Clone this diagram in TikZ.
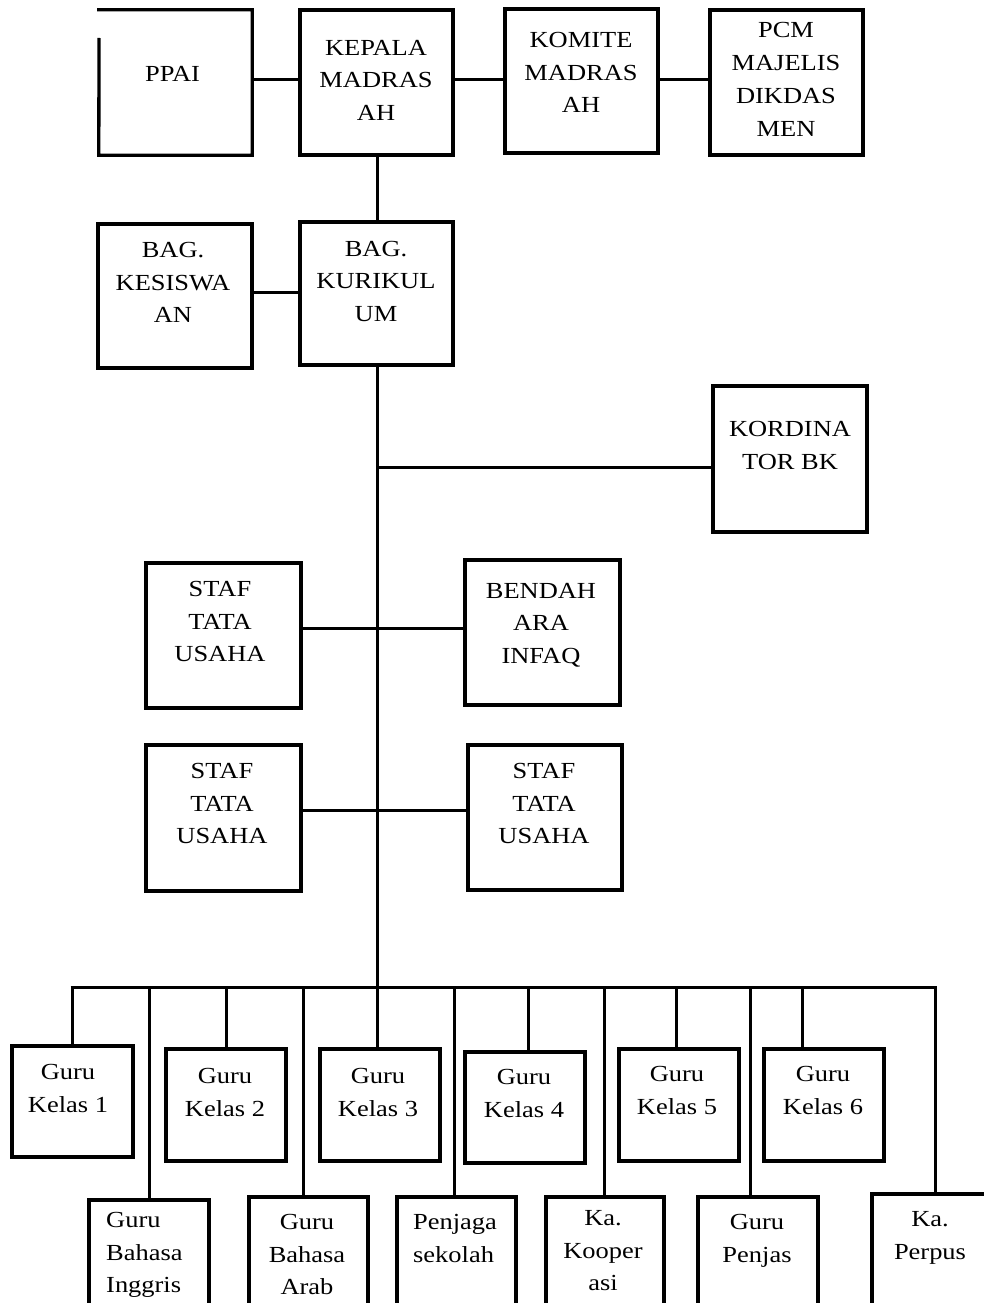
\documentclass[tikz,border=0pt]{standalone}
\usepackage{fontspec}
\setmainfont{Liberation Serif}[FakeStretch=1.15]
\usetikzlibrary{fit}
\tikzset{
  box/.style={draw=black, line width=3.3pt, inner sep=0pt, fill=none},
  plainbox/.style={draw=none, inner sep=0pt},
  conn/.style={draw=black, line width=3pt},
  txt/.style={inner sep=0pt, anchor=north, align=center, font=\fontsize{23}{32.5}\selectfont},
  ltxt/.style={inner sep=0pt, anchor=north west, align=left, font=\fontsize{23}{32.5}\selectfont},
}
\begin{document}
\begin{tikzpicture}[x=1pt, y=-1pt]
\useasboundingbox (0,0) rectangle (984,1303);
\clip (0,0) rectangle (984,1303);
\fill[white] (0,0) rectangle (984,1303);

% top row
\node[plainbox, fit={(99,10) (252,155)}] (ppai) {};
\draw[line width=3.3pt] (99,38) -- (ppai.south west) -- (ppai.south east) -- (ppai.north east) -- ([xshift=-1.6pt]ppai.north west);
\node[box, fit={(300,10) (453,155)}] (kepala) {};
\node[box, fit={(505,9) (658,153)}] (komite) {};
\node[box, fit={(710,10) (863,155)}] (pcm) {};

\node[txt] (tppai) at (172.5,66.4) {PPAI};
\node[txt] (tkepala) at (376,40) {KEPALA\\MADRAS\\AH};
\node[txt] (tkomite) at (581,32.4) {KOMITE\\MADRAS\\AH};
\node[txt, font=\fontsize{23}{33}\selectfont] (tpcm) at (786,22) {PCM\\MAJELIS\\DIKDAS\\MEN};

\coordinate (h1) at (0,80);
\draw[conn] (ppai.east |- h1) -- (kepala.west |- h1);
\draw[conn] (kepala.east |- h1) -- (komite.west |- h1);
\draw[conn] (komite.east |- h1) -- (pcm.west |- h1);

% second row
\node[box, fit={(98,224) (252,368)}] (kesiswaan) {};
\node[box, fit={(300,222) (453,365)}] (kurikulum) {};
\node[txt] (tkesiswaan) at (173,242.4) {BAG.\\KESISWA\\AN};
\node[txt] (tkurikulum) at (376,241) {BAG.\\KURIKUL\\UM};

\coordinate (v0) at (377,0);
\coordinate (h2) at (0,292);
\draw[conn] (kepala.south -| v0) -- (kurikulum.north -| v0);
\draw[conn] (kesiswaan.east |- h2) -- (kurikulum.west |- h2);

% kordinator
\node[box, fit={(713,386) (867,532)}] (kordinator) {};
\node[txt] (tkordinator) at (790,421.4) {KORDINA\\TOR BK};

% staf rows
\node[box, fit={(146,563) (301,708)}] (staf1) {};
\node[box, fit={(465,560) (620,705)}] (bendahara) {};
\node[box, fit={(146,745) (301,891)}] (staf2) {};
\node[box, fit={(468,745) (622,890)}] (staf3) {};
\node[txt] (tstaf1) at (220,581.4) {STAF\\TATA\\USAHA};
\node[txt] (tbendahara) at (541,583) {BENDAH\\ARA\\INFAQ};
\node[txt] (tstaf2) at (222,763.4) {STAF\\TATA\\USAHA};
\node[txt] (tstaf3) at (544,763.4) {STAF\\TATA\\USAHA};

% junctions on the main line
\coordinate (jk) at (377,467);
\coordinate (j1) at (377,628);
\coordinate (j2) at (377,810);
\coordinate (bus) at (377,987);
\coordinate (busL) at (72,987);
\coordinate (busR) at (935,987);

\draw[conn] (kurikulum.south -| bus) -- (bus);
\draw[conn] (jk) -- (kordinator.west |- jk);
\draw[conn] (staf1.east |- j1) -- (bendahara.west |- j1);
\draw[conn] (staf2.east |- j2) -- (staf3.west |- j2);
\draw[conn] ([xshift=-1.5pt]busL) -- ([xshift=1.5pt]busR);

% upper class boxes
\node[box, fit={(12,1046) (133,1157)}] (kelas1) {};
\node[box, fit={(166,1049) (286,1161)}] (kelas2) {};
\node[box, fit={(320,1049) (440,1161)}] (kelas3) {};
\node[box, fit={(465,1052) (585,1163)}] (kelas4) {};
\node[box, fit={(619,1049) (739,1161)}] (kelas5) {};
\node[box, fit={(764,1049) (884,1161)}] (kelas6) {};
\node[txt] (tkelas1) at (68,1064.4) {Guru\\Kelas 1};
\node[txt] (tkelas2) at (225,1068.4) {Guru\\Kelas 2};
\node[txt] (tkelas3) at (378,1068.4) {Guru\\Kelas 3};
\node[txt] (tkelas4) at (524,1069.4) {Guru\\Kelas 4};
\node[txt] (tkelas5) at (677,1066.4) {Guru\\Kelas 5};
\node[txt] (tkelas6) at (823,1066.4) {Guru\\Kelas 6};

% lower boxes (cut by the page edge)
\node[box, fit={(89,1200) (209,1330)}] (inggris) {};
\node[box, fit={(249,1197) (368,1330)}] (arab) {};
\node[box, fit={(397,1197) (516,1330)}] (penjaga) {};
\node[box, fit={(546,1197) (664,1330)}] (koperasi) {};
\node[box, fit={(698,1197) (818,1330)}] (penjas) {};
\node[box, fit={(872,1194) (995,1330)}] (perpus) {};
\node[ltxt] (tinggris) at (106,1212.4) {Guru\\Bahasa\\Inggris};
\node[txt] (tarab) at (307,1214.4) {Guru\\Bahasa\\Arab};
\node[ltxt] (tpenjaga) at (413,1214.4) {Penjaga\\sekolah};
\node[txt] (tkoperasi) at (603,1210.4) {Ka.\\Kooper\\asi};
\node[txt] (tpenjas) at (757,1214.4) {Guru\\Penjas};
\node[txt] (tperpus) at (930,1211.4) {Ka.\\Perpus};

% drops from the bus
\coordinate (d1) at (72,987);
\coordinate (d2) at (149,987);
\coordinate (d3) at (226,987);
\coordinate (d4) at (303,987);
\coordinate (d6) at (454,987);
\coordinate (d7) at (528,987);
\coordinate (d8) at (604,987);
\coordinate (d9) at (676,987);
\coordinate (d10) at (750,987);
\coordinate (d11) at (802,987);
\coordinate (d12) at (935,987);
\draw[conn] (d1) -- (d1 |- kelas1.north);
\draw[conn] (d2) -- (d2 |- inggris.north);
\draw[conn] (d3) -- (d3 |- kelas2.north);
\draw[conn] (d4) -- (d4 |- arab.north);
\draw[conn] (bus) -- (bus |- kelas3.north);
\draw[conn] (d6) -- (d6 |- penjaga.north);
\draw[conn] (d7) -- (d7 |- kelas4.north);
\draw[conn] (d8) -- (d8 |- koperasi.north);
\draw[conn] (d9) -- (d9 |- kelas5.north);
\draw[conn] (d10) -- (d10 |- penjas.north);
\draw[conn] (d11) -- (d11 |- kelas6.north);
\draw[conn] (d12) -- (d12 |- perpus.north);
\end{tikzpicture}
\end{document}
